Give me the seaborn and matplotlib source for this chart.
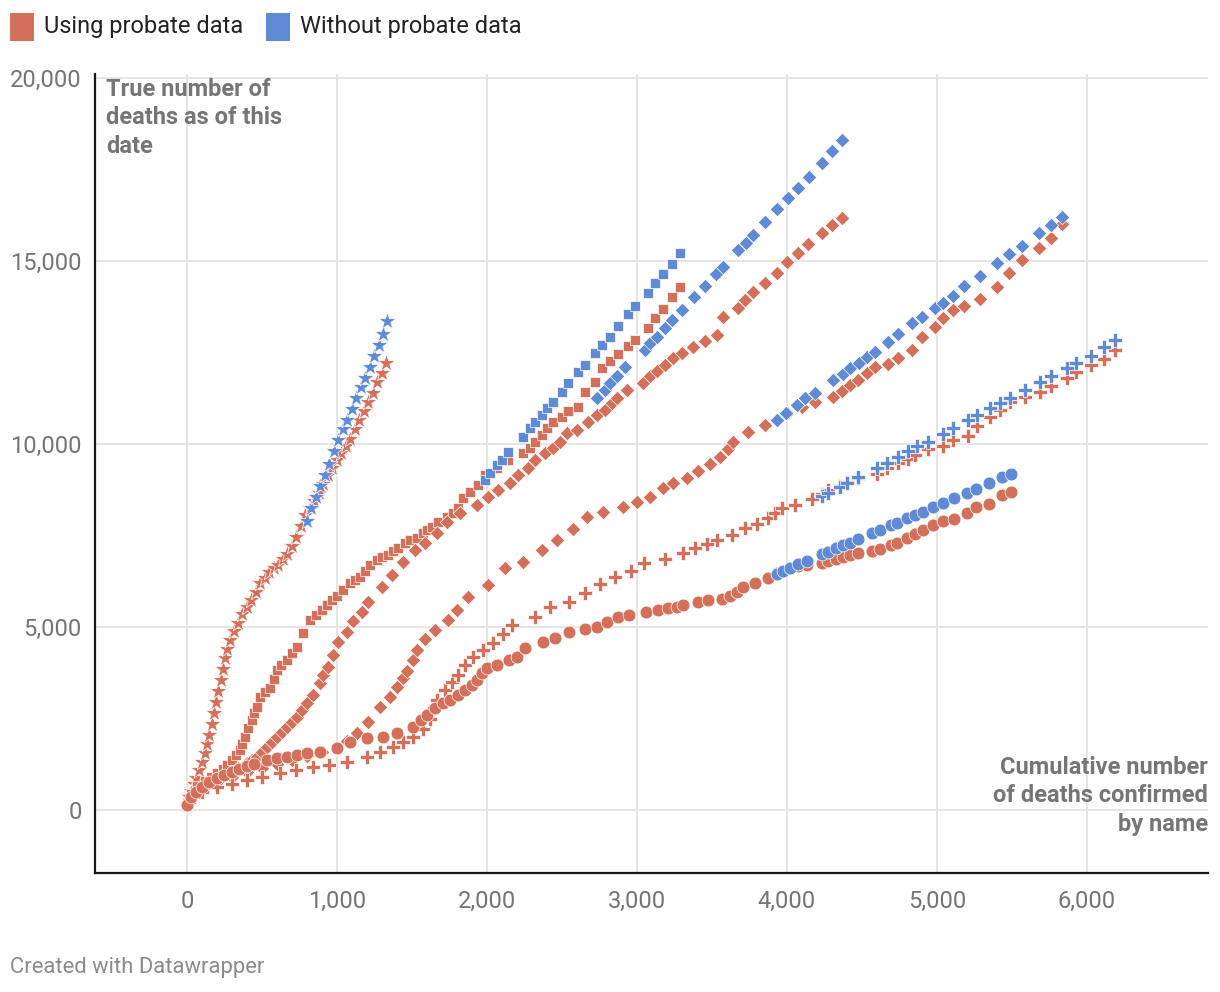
import matplotlib
matplotlib.use("Agg")
import matplotlib.pyplot as plt
from matplotlib.patches import Rectangle
from matplotlib.ticker import FuncFormatter
import seaborn as sns
import pandas as pd

# ---------------- data (x = deaths confirmed by name, y = true deaths) ----------------
star_probate = [(0,150),(15,350),(30,520),(45,700),(60,880),(80,1100),(100,1300),(120,1550),
    (135,1800),(150,2050),(165,2350),(180,2650),(195,2950),(210,3250),(225,3550),(240,3850),
    (255,4150),(270,4400),(290,4650),(315,4900),(340,5100),(370,5350),(400,5550),(430,5750),
    (460,5950),(490,6200),(520,6350),(550,6500),(580,6600),(610,6700),(640,6850),(670,7000),
    (700,7200),(730,7450),(760,7750),(790,8050),(820,8250),(850,8450),(880,8650),(910,8900),
    (940,9150),(970,9350),(1000,9550),(1030,9750),(1060,9950),(1090,10150),(1120,10400),
    (1150,10650),(1180,10900),(1210,11150),(1240,11400),(1270,11700),(1300,11950),(1330,12200)]
star_without = [(800,7900),(830,8250),(860,8550),(890,8850),(920,9150),(950,9450),(980,9800),
    (1010,10100),(1040,10400),(1070,10650),(1100,10950),(1130,11250),(1160,11550),(1190,11800),
    (1220,12100),(1250,12400),(1280,12700),(1310,13000),(1335,13350)]

square_probate = [(0,200),(30,450),(70,650),(120,800),(160,900),(200,1010),(240,1120),(270,1230),
    (300,1370),(330,1500),(353,1640),(370,1800),(387,2000),(410,2230),(433,2460),(450,2640),
    (467,2810),(487,3090),(520,3230),(553,3330),(580,3580),(600,3830),(630,3950),(667,4100),
    (700,4280),(733,4450),(773,4840),(820,5190),(860,5330),(900,5460),(935,5600),(967,5740),
    (1000,5850),(1040,6000),(1087,6200),(1120,6290),(1153,6370),(1190,6530),(1220,6690),
    (1267,6830),(1300,6900),(1340,6970),(1375,7080),(1407,7160),(1453,7300),(1490,7370),
    (1533,7430),(1573,7570),(1600,7650),(1633,7730),(1673,7870),(1733,8000),(1773,8120),
    (1807,8250),(1840,8520),(1887,8690),(1940,8880),(1987,9150),(2067,9340),(2140,9560),
    (2240,9750),(2287,9890),(2320,10050),(2367,10250),(2400,10440),(2440,10600),(2500,10740),
    (2540,10900),(2607,11010),(2653,11420),(2720,11690),(2767,12080),(2820,12270),(2873,12460),
    (2940,12680),(2987,12840),(3073,13170),(3120,13440),(3173,13690),(3233,14020),(3287,14290)]
square_without = [(1987,9016),(2020,9208),(2067,9426),(2100,9563),(2140,9782),(2240,10191),
    (2287,10437),(2320,10601),(2367,10792),(2400,10984),(2440,11148),(2500,11421),(2540,11667),
    (2607,11967),(2653,12158),(2720,12486),(2767,12705),(2820,12923),(2873,13224),(2940,13552),
    (2987,13770),(3073,14126),(3120,14399),(3173,14645),(3233,14918),(3287,15219)]

diamond_a_probate = [(0,200),(60,450),(120,620),(173,740),(230,870),(287,1010),(340,1150),
    (400,1280),(433,1370),(467,1450),(500,1590),(533,1720),(567,1860),(600,2000),(633,2130),
    (667,2270),(700,2400),(733,2540),(767,2730),(800,2920),(840,3140),(887,3470),(907,3690),
    (940,3910),(973,4240),(1007,4590),(1067,4860),(1107,5170),(1167,5410),(1207,5670),
    (1300,6090),(1367,6420),(1440,6770),(1520,7100),(1587,7300),(1667,7570),(1733,7870),
    (1820,8115),(1933,8330),(2007,8540),(2073,8743),(2153,8934),(2207,9153),(2273,9344),
    (2320,9563),(2387,9754),(2440,9891),(2487,10055),(2533,10301),(2600,10382),(2673,10601),
    (2733,10792),(2787,10929),(2833,11120),(2867,11257),(2933,11475),(3040,11667),(3087,11860),
    (3133,11990),(3187,12158),(3240,12350),(3300,12486),(3373,12650),(3453,12820),(3533,12978),
    (3573,13470),(3673,13716),(3720,13934),(3773,14153),(3853,14399),(3933,14672),(4000,14973),
    (4073,15219),(4140,15464),(4233,15765),(4300,15984),(4367,16175)]
diamond_a_without = [(2733,11257),(2787,11475),(2820,11667),(2867,11858),(2920,12104),(3053,12568),
    (3087,12760),(3133,12923),(3187,13169),(3233,13388),(3300,13661),(3380,14016),(3453,14317),
    (3527,14645),(3573,14836),(3673,15301),(3727,15492),(3773,15710),(3853,16066),(3933,16421),
    (4007,16721),(4073,16995),(4147,17295),(4233,17678),(4300,18005),(4367,18306)]

diamond_b_probate = [(0,180),(50,420),(100,560),(200,760),(300,900),(400,1030),(500,1150),
    (600,1270),(700,1380),(800,1480),(900,1580),(1000,1700),(1067,1880),(1133,2100),(1207,2400),
    (1287,2810),(1353,3090),(1400,3360),(1440,3600),(1467,3800),(1507,4100),(1533,4370),
    (1587,4670),(1653,4918),(1740,5191),(1800,5464),(1873,5820),(2007,6148),(2120,6612),
    (2240,6776),(2367,7104),(2467,7377),(2573,7678),(2667,8005),(2773,8142),(2907,8279),
    (3000,8415),(3087,8552),(3173,8798),(3240,8934),(3333,9071),(3407,9262),(3487,9454),
    (3553,9645),(3607,9863),(3640,10055),(3740,10328),(3853,10519),(3933,10656),(4000,10847),
    (4100,11020),(4187,11148),(4307,11284),(4367,11448),(4420,11612),(4473,11749),(4533,11940),
    (4587,12104),(4673,12186),(4740,12350),(4833,12568),(4900,12923),(4987,13197),(5040,13443),
    (5107,13661),(5180,13770),(5287,13962),(5400,14290),(5480,14672),(5567,15027),(5680,15355),
    (5760,15628),(5833,16011)]
diamond_b_without = [(3933,10656),(3993,10847),(4067,11066),(4120,11257),(4187,11393),(4307,11749),
    (4373,11913),(4420,12077),(4480,12213),(4533,12377),(4587,12514),(4673,12787),(4740,13005),
    (4833,13306),(4900,13470),(4987,13716),(5040,13852),(5107,14044),(5180,14317),(5287,14590),
    (5400,14945),(5480,15191),(5567,15410),(5680,15765),(5760,15984),(5833,16202)]

plus_probate = [(0,150),(50,350),(100,480),(200,620),(300,720),(400,820),(500,900),(620,1010),
    (730,1090),(840,1175),(950,1240),(1067,1310),(1200,1450),(1290,1580),(1373,1720),(1440,1850),
    (1507,1995),(1573,2200),(1620,2500),(1645,2800),(1667,3005),(1720,3279),(1767,3497),
    (1807,3689),(1853,3962),(1907,4180),(1973,4372),(2040,4563),(2107,4809),(2167,5055),
    (2320,5273),(2420,5546),(2547,5683),(2653,5929),(2753,6175),(2853,6366),(2960,6530),
    (3047,6749),(3187,6850),(3307,7022),(3387,7158),(3467,7268),(3533,7377),(3633,7514),
    (3720,7705),(3800,7814),(3873,7978),(3920,8115),(3967,8251),(4053,8333),(4167,8490),
    (4233,8640),(4273,8743),(4353,8860),(4400,8950),(4473,9070),(4600,9190),(4667,9350),
    (4740,9480),(4807,9600),(4853,9699),(4940,9850),(5040,9945),(5107,10109),(5207,10219),
    (5267,10492),(5353,10738),(5420,10929),(5487,11148),(5587,11284),(5687,11421),(5760,11585),
    (5867,11803),(5927,11967),(6027,12158),(6113,12322),(6187,12568)]
plus_without = [(4233,8579),(4273,8661),(4353,8825),(4400,8934),(4473,9098),(4600,9344),
    (4667,9481),(4740,9645),(4807,9809),(4867,9945),(4940,10055),(5040,10273),(5107,10437),
    (5207,10656),(5267,10792),(5353,10984),(5420,11120),(5487,11257),(5587,11475),(5687,11694),
    (5760,11858),(5867,12077),(5927,12213),(6027,12404),(6113,12650),(6187,12842)]

circle_probate = [(0,130),(30,350),(60,500),(100,640),(150,760),(200,870),(250,960),(300,1050),
    (350,1130),(400,1200),(450,1270),(533,1366),(600,1421),(667,1448),(733,1503),(800,1557),
    (887,1585),(1000,1694),(1087,1858),(1200,1967),(1307,1995),(1400,2104),(1507,2270),
    (1560,2450),(1600,2600),(1653,2787),(1707,2923),(1753,3005),(1807,3142),(1853,3279),
    (1900,3415),(1933,3552),(1967,3743),(2000,3880),(2067,3962),(2147,4098),(2200,4180),
    (2253,4426),(2373,4590),(2453,4699),(2547,4863),(2653,4945),(2733,5000),(2800,5137),
    (2873,5273),(2947,5328),(3060,5410),(3140,5464),(3207,5519),(3267,5546),(3307,5601),
    (3407,5683),(3473,5738),(3567,5765),(3620,5847),(3667,5956),(3707,6093),(3787,6202),
    (3873,6339),(3933,6475),(3973,6530),(4020,6612),(4073,6667),(4133,6694),(4233,6749),
    (4273,6803),(4327,6858),(4373,6913),(4420,6967),(4473,7022),(4567,7077),(4620,7131),
    (4693,7240),(4733,7295),(4800,7432),(4853,7541),(4907,7650),(4973,7800),(5040,7896),
    (5113,7951),(5200,8115),(5260,8279),(5347,8361),(5433,8607),(5493,8689)]
circle_without = [(3933,6448),(3973,6530),(4020,6612),(4073,6721),(4133,6803),(4233,6995),
    (4273,7049),(4327,7158),(4373,7230),(4420,7295),(4473,7404),(4567,7568),(4620,7650),
    (4693,7787),(4733,7842),(4800,7978),(4853,8060),(4907,8142),(4973,8279),(5040,8388),
    (5113,8525),(5200,8661),(5260,8770),(5347,8934),(5433,9098),(5493,9180)]

legend_labels = ["Using probate data", "Without probate data"]
x_ticks = [0, 1000, 2000, 3000, 4000, 5000, 6000]
y_ticks = [0, 5000, 10000, 15000, 20000]

# ---------------- style ----------------
RED = "#D4705A"
BLUE = "#5E8AD6"
GRID = "#E3E3E3"
TICK = "#747474"
NOTE = "#757575"

sns.set_style("white")
plt.rcParams["font.family"] = ["Roboto", "DejaVu Sans"]

W, H = 1220, 992
fig = plt.figure(figsize=(W / 100, H / 100), dpi=100)
ax = fig.add_axes([95 / W, 1 - 873 / H, (1208 - 95) / W, (873 - 74) / H])

series = [
    (star_probate, star_without, "*", 170),
    (square_probate, square_without, "s", 62),
    (diamond_a_probate, diamond_a_without, "D", 55),
    (diamond_b_probate, diamond_b_without, "D", 55),
    (plus_probate, plus_without, "P", 105),
    (circle_probate, circle_without, "o", 85),
]

for pts_r, _, m, s in series:
    df = pd.DataFrame(pts_r, columns=["x", "y"])
    sns.scatterplot(data=df, x="x", y="y", marker=m, s=s, color=RED,
                    edgecolor="white", linewidth=0.5, ax=ax, zorder=3, legend=False)
for _, pts_b, m, s in series:
    df = pd.DataFrame(pts_b, columns=["x", "y"])
    sns.scatterplot(data=df, x="x", y="y", marker=m, s=s, color=BLUE,
                    edgecolor="white", linewidth=0.5, ax=ax, zorder=4, legend=False)

ax.set_xlim(-613, 6807)
ax.set_ylim(-1721, 20109)
ax.set_xticks(x_ticks)
ax.set_yticks(y_ticks)
fmt = FuncFormatter(lambda v, p: f"{int(v):,}")
ax.xaxis.set_major_formatter(fmt)
ax.yaxis.set_major_formatter(fmt)
ax.set_xlabel("")
ax.set_ylabel("")
ax.grid(True, color=GRID, linewidth=1.3, zorder=0)
ax.set_axisbelow(True)
for side in ["top", "right"]:
    ax.spines[side].set_visible(False)
for side in ["left", "bottom"]:
    ax.spines[side].set_color("#1a1a1a")
    ax.spines[side].set_linewidth(1.6)
ax.tick_params(axis="both", length=0, labelsize=17, colors=TICK)
ax.tick_params(axis="y", pad=9.5)
ax.tick_params(axis="x", pad=12)
for lab in ax.get_xticklabels() + ax.get_yticklabels():
    lab.set_color(TICK)

# axis notes
fig.text(106 / W, 1 - 78 / H, "True number of\ndeaths as of this\ndate", ha="left", va="top",
         fontsize=17, fontweight="bold", color=NOTE, linespacing=1.3)
fig.text(1208 / W, 1 - 756 / H, "Cumulative number\nof deaths confirmed\nby name", ha="right",
         va="top", fontsize=17, fontweight="bold", color=NOTE, linespacing=1.3,
         multialignment="right")

# legend
fig.patches.append(Rectangle((10 / W, 1 - 41 / H), 24 / W, 28 / H, transform=fig.transFigure,
                             facecolor=RED, edgecolor="none"))
fig.text(44 / W, 1 - 27 / H, legend_labels[0], ha="left", va="center", fontsize=17, color="#222222")
fig.patches.append(Rectangle((266 / W, 1 - 41 / H), 24 / W, 28 / H, transform=fig.transFigure,
                             facecolor=BLUE, edgecolor="none"))
fig.text(300 / W, 1 - 27 / H, legend_labels[1], ha="left", va="center", fontsize=17, color="#222222")

fig.text(10 / W, 1 - 967 / H, "Created with Datawrapper", ha="left", va="center",
         fontsize=15.8, color="#8a8a8a")

fig.savefig("out.png", dpi=100)
